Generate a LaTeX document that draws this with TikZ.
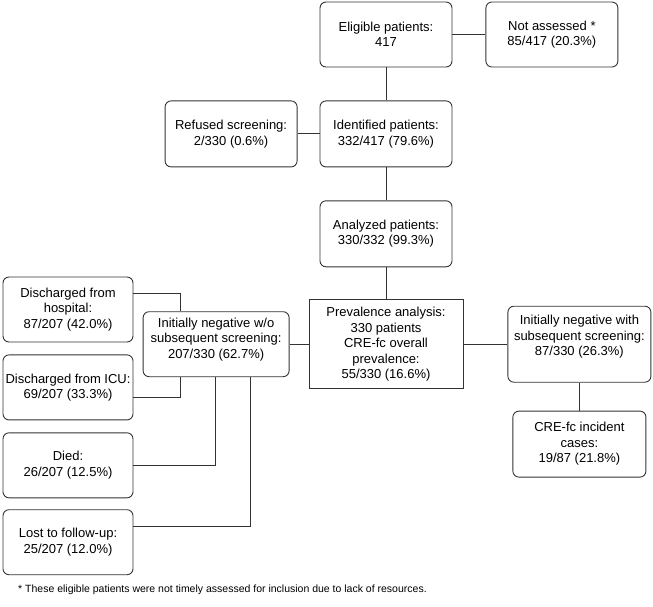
\documentclass[tikz,border=0pt]{standalone}
\usepackage{fontspec}
\setmainfont{Liberation Sans}
\usetikzlibrary{positioning}

\tikzset{
  flowbox/.style={draw=black!80, line width=0.9pt, rounded corners=6pt, align=center,
    inner sep=2pt, minimum width=132pt, minimum height=66pt,
    font=\fontsize{13}{15.5}\selectfont},
  plainbox/.style={flowbox, rounded corners=0pt},
  link/.style={draw=black!80, line width=0.9pt},
  footnotetext/.style={anchor=west, inner sep=0pt, font=\fontsize{10.5}{12}\selectfont}
}

\begin{document}
\begin{tikzpicture}[x=1pt, y=-1pt]
		\useasboundingbox (0,0) rectangle (653,606);

		% main column
		\node[flowbox, minimum height=65pt] (eligible) at (386,34.5) {Eligible patients:\\417};
		\node[flowbox, minimum height=65pt, right=33pt of eligible] (notassessed) {Not assessed *\\85/417 (20.3\%)};
		\node[flowbox, below=33pt of eligible] (identified) {Identified patients:\\332/417 (79.6\%)};
		\node[flowbox, left=22pt of identified] (refused) {Refused screening:\\2/330 (0.6\%)};
		\node[flowbox, below=33pt of identified] (analyzed) {Analyzed patients:\\330/332 (99.3\%)};
		\node[plainbox, minimum width=154pt, minimum height=89pt, below=32pt of analyzed] (prevalence)
			{Prevalence analysis:\\330 patients\\CRE-fc overall\\prevalence:\\55/330 (16.6\%)};

		% right branch
		\node[flowbox, minimum width=143pt, minimum height=76pt, text depth=17pt, right=44pt of prevalence] (negwith)
			{Initially negative with\\subsequent screening:\\87/330 (26.3\%)};
		\node[flowbox, minimum width=133pt, below=28pt of negwith] (incident)
			{CRE-fc incident\\cases:\\19/87 (21.8\%)};

		% left branch
		\node[flowbox, minimum width=146pt, minimum height=65pt, text depth=12pt, left=19pt of prevalence] (negwithout)
			{Initially negative w/o\\subsequent screening:\\207/330 (62.7\%)};
		\node[flowbox, minimum width=130pt, minimum height=65pt] (dischosp) at (68,309.5)
			{Discharged from\\hospital:\\87/207 (42.0\%)};
		\node[flowbox, minimum width=130pt, minimum height=65pt, below=12pt of dischosp] (discicu)
			{Discharged from ICU:\\69/207 (33.3\%)};
		\node[flowbox, minimum width=130pt, minimum height=65pt, below=12pt of discicu] (died)
			{Died:\\26/207 (12.5\%)};
		\node[flowbox, minimum width=130pt, minimum height=65pt, below=11pt of died] (lost)
			{Lost to follow-up:\\25/207 (12.0\%)};

		\node[footnotetext] (footnote) at (18,590)
			{* These eligible patients were not timely assessed for inclusion due to lack of resources.};

		% connectors
		\draw[link] (eligible) -- (notassessed);
		\draw[link] (eligible) -- (identified);
		\draw[link] (refused) -- (identified);
		\draw[link] (identified) -- (analyzed);
		\draw[link] (analyzed) -- (prevalence);
		\draw[link] (prevalence) -- (negwith);
		\draw[link] (negwith) -- (incident);
		\draw[link] (negwithout) -- (prevalence);
		\draw[link] ([yshift=16pt]dischosp.east) -| ([xshift=38pt]negwithout.north west);
		\draw[link] ([yshift=-10pt]discicu.east) -| ([xshift=38pt]negwithout.south west);
		\draw[link] (died.east) -| ([xshift=73pt]negwithout.south west);
		\draw[link] ([yshift=16pt]lost.east) -| ([xshift=108pt]negwithout.south west);
\end{tikzpicture}
\end{document}
